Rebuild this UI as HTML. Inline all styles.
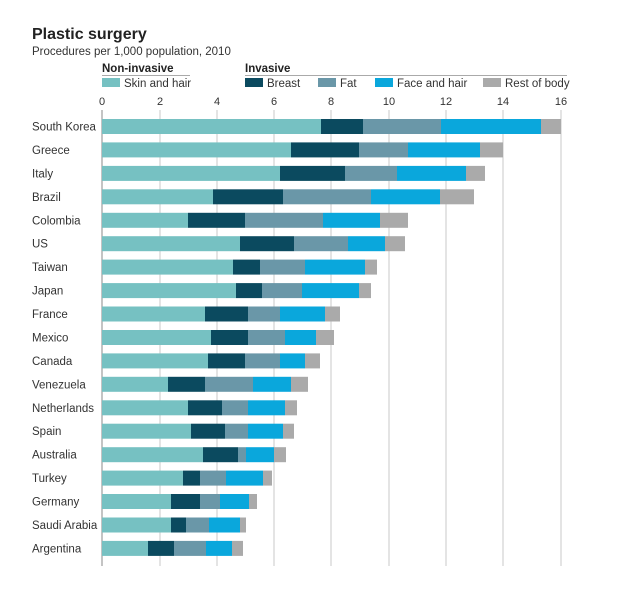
<!DOCTYPE html>
<html><head><meta charset="utf-8"><style>
html,body{margin:0;padding:0;background:#fff;}
svg{display:block;font-family:"Liberation Sans",sans-serif;}
.l{font-size:11.5px;fill:#333;}
.t{font-size:11px;fill:#333;text-anchor:middle;}
.a{fill:#76c1c2}.b{fill:#0b4a5f}.c{fill:#6a97a8}.d{fill:#0aa7dc}.e{fill:#aaaaaa}
</style></head><body>
<svg width="625" height="608" viewBox="0 0 625 608">
<text x="32" y="39" font-size="16" font-weight="bold" fill="#222">Plastic surgery</text>
<text x="32" y="55" font-size="11.5" fill="#333">Procedures per 1,000 population, 2010</text>
<text x="102" y="72" font-size="11.5" font-weight="bold" fill="#222">Non-invasive</text>
<line x1="102" y1="75.5" x2="190" y2="75.5" stroke="#aaa"/>
<text x="245" y="72" font-size="11.5" font-weight="bold" fill="#222">Invasive</text>
<line x1="245" y1="75.5" x2="567" y2="75.5" stroke="#aaa"/>
<rect class="a" x="102" y="78" width="18" height="9"/><text class="l" x="124" y="87">Skin and hair</text>
<rect class="b" x="245" y="78" width="18" height="9"/><text class="l" x="267" y="87">Breast</text>
<rect class="c" x="318" y="78" width="18" height="9"/><text class="l" x="340" y="87">Fat</text>
<rect class="d" x="375" y="78" width="18" height="9"/><text class="l" x="397" y="87">Face and hair</text>
<rect class="e" x="483" y="78" width="18" height="9"/><text class="l" x="505" y="87">Rest of body</text>
<g class="t">
<text x="102" y="105">0</text><text x="160" y="105">2</text><text x="217" y="105">4</text><text x="274" y="105">6</text><text x="331" y="105">8</text><text x="389" y="105">10</text><text x="446" y="105">12</text><text x="503" y="105">14</text><text x="561" y="105">16</text>
</g>
<g stroke="#c8c8c8" stroke-width="1">
<line x1="102" y1="110" x2="102" y2="566" stroke="#888"/>
<line x1="160" y1="110" x2="160" y2="566"/><line x1="217" y1="110" x2="217" y2="566"/><line x1="274" y1="110" x2="274" y2="566"/><line x1="331" y1="110" x2="331" y2="566"/><line x1="389" y1="110" x2="389" y2="566"/><line x1="446" y1="110" x2="446" y2="566"/><line x1="503" y1="110" x2="503" y2="566"/><line x1="561" y1="110" x2="561" y2="566"/>
</g>

<g transform="translate(0,119)"><text class="l" x="32" y="11.5">South Korea</text><rect class="a" x="102" width="219" height="15"/><rect class="b" x="321" width="42" height="15"/><rect class="c" x="363" width="78" height="15"/><rect class="d" x="441" width="100" height="15"/><rect class="e" x="541" width="20" height="15"/></g>
<g transform="translate(0,142.4)"><text class="l" x="32" y="11.5">Greece</text><rect class="a" x="102" width="189" height="15"/><rect class="b" x="291" width="68" height="15"/><rect class="c" x="359" width="49" height="15"/><rect class="d" x="408" width="72" height="15"/><rect class="e" x="480" width="23" height="15"/></g>
<g transform="translate(0,165.9)"><text class="l" x="32" y="11.5">Italy</text><rect class="a" x="102" width="178" height="15"/><rect class="b" x="280" width="65" height="15"/><rect class="c" x="345" width="52" height="15"/><rect class="d" x="397" width="69" height="15"/><rect class="e" x="466" width="19" height="15"/></g>
<g transform="translate(0,189.3)"><text class="l" x="32" y="11.5">Brazil</text><rect class="a" x="102" width="111" height="15"/><rect class="b" x="213" width="70" height="15"/><rect class="c" x="283" width="88" height="15"/><rect class="d" x="371" width="69" height="15"/><rect class="e" x="440" width="34" height="15"/></g>
<g transform="translate(0,212.8)"><text class="l" x="32" y="11.5">Colombia</text><rect class="a" x="102" width="86" height="15"/><rect class="b" x="188" width="57" height="15"/><rect class="c" x="245" width="78" height="15"/><rect class="d" x="323" width="57" height="15"/><rect class="e" x="380" width="28" height="15"/></g>
<g transform="translate(0,236.2)"><text class="l" x="32" y="11.5">US</text><rect class="a" x="102" width="138" height="15"/><rect class="b" x="240" width="54" height="15"/><rect class="c" x="294" width="54" height="15"/><rect class="d" x="348" width="37" height="15"/><rect class="e" x="385" width="20" height="15"/></g>
<g transform="translate(0,259.6)"><text class="l" x="32" y="11.5">Taiwan</text><rect class="a" x="102" width="131" height="15"/><rect class="b" x="233" width="27" height="15"/><rect class="c" x="260" width="45" height="15"/><rect class="d" x="305" width="60" height="15"/><rect class="e" x="365" width="12" height="15"/></g>
<g transform="translate(0,283.1)"><text class="l" x="32" y="11.5">Japan</text><rect class="a" x="102" width="134" height="15"/><rect class="b" x="236" width="26" height="15"/><rect class="c" x="262" width="40" height="15"/><rect class="d" x="302" width="57" height="15"/><rect class="e" x="359" width="12" height="15"/></g>
<g transform="translate(0,306.5)"><text class="l" x="32" y="11.5">France</text><rect class="a" x="102" width="103" height="15"/><rect class="b" x="205" width="43" height="15"/><rect class="c" x="248" width="32" height="15"/><rect class="d" x="280" width="45" height="15"/><rect class="e" x="325" width="15" height="15"/></g>
<g transform="translate(0,330)"><text class="l" x="32" y="11.5">Mexico</text><rect class="a" x="102" width="109" height="15"/><rect class="b" x="211" width="37" height="15"/><rect class="c" x="248" width="37" height="15"/><rect class="d" x="285" width="31" height="15"/><rect class="e" x="316" width="18" height="15"/></g>
<g transform="translate(0,353.4)"><text class="l" x="32" y="11.5">Canada</text><rect class="a" x="102" width="106" height="15"/><rect class="b" x="208" width="37" height="15"/><rect class="c" x="245" width="35" height="15"/><rect class="d" x="280" width="25" height="15"/><rect class="e" x="305" width="15" height="15"/></g>
<g transform="translate(0,376.8)"><text class="l" x="32" y="11.5">Venezuela</text><rect class="a" x="102" width="66" height="15"/><rect class="b" x="168" width="37" height="15"/><rect class="c" x="205" width="48" height="15"/><rect class="d" x="253" width="38" height="15"/><rect class="e" x="291" width="17" height="15"/></g>
<g transform="translate(0,400.3)"><text class="l" x="32" y="11.5">Netherlands</text><rect class="a" x="102" width="86" height="15"/><rect class="b" x="188" width="34" height="15"/><rect class="c" x="222" width="26" height="15"/><rect class="d" x="248" width="37" height="15"/><rect class="e" x="285" width="12" height="15"/></g>
<g transform="translate(0,423.7)"><text class="l" x="32" y="11.5">Spain</text><rect class="a" x="102" width="89" height="15"/><rect class="b" x="191" width="34" height="15"/><rect class="c" x="225" width="23" height="15"/><rect class="d" x="248" width="35" height="15"/><rect class="e" x="283" width="11" height="15"/></g>
<g transform="translate(0,447.2)"><text class="l" x="32" y="11.5">Australia</text><rect class="a" x="102" width="101" height="15"/><rect class="b" x="203" width="35" height="15"/><rect class="c" x="238" width="8" height="15"/><rect class="d" x="246" width="28" height="15"/><rect class="e" x="274" width="12" height="15"/></g>
<g transform="translate(0,470.6)"><text class="l" x="32" y="11.5">Turkey</text><rect class="a" x="102" width="81" height="15"/><rect class="b" x="183" width="17" height="15"/><rect class="c" x="200" width="26" height="15"/><rect class="d" x="226" width="37" height="15"/><rect class="e" x="263" width="9" height="15"/></g>
<g transform="translate(0,494)"><text class="l" x="32" y="11.5">Germany</text><rect class="a" x="102" width="69" height="15"/><rect class="b" x="171" width="29" height="15"/><rect class="c" x="200" width="20" height="15"/><rect class="d" x="220" width="29" height="15"/><rect class="e" x="249" width="8" height="15"/></g>
<g transform="translate(0,517.5)"><text class="l" x="32" y="11.5">Saudi Arabia</text><rect class="a" x="102" width="69" height="15"/><rect class="b" x="171" width="15" height="15"/><rect class="c" x="186" width="23" height="15"/><rect class="d" x="209" width="31" height="15"/><rect class="e" x="240" width="6" height="15"/></g>
<g transform="translate(0,540.9)"><text class="l" x="32" y="11.5">Argentina</text><rect class="a" x="102" width="46" height="15"/><rect class="b" x="148" width="26" height="15"/><rect class="c" x="174" width="32" height="15"/><rect class="d" x="206" width="26" height="15"/><rect class="e" x="232" width="11" height="15"/></g>
</svg>
</body></html>
